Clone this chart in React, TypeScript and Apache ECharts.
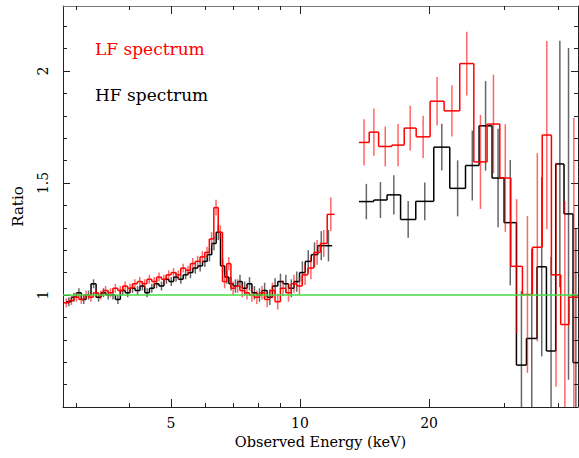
import React, { useEffect, useRef } from "react";
import * as echarts from "echarts";

// ---------------- data ----------------
// x range (keV) and y range (ratio)
const xRange = [2.8, 44.5];
const yRange = [0.5, 2.29];

// tick values
const xMajorTicks = [5, 10, 20];
const xMinorTicks = [3, 4, 6, 7, 8, 9, 30, 40];
const yMajorTicks = [0.5, 1, 1.5, 2];
const yMinorTicks = [0.6, 0.7, 0.8, 0.9, 1.1, 1.2, 1.3, 1.4, 1.6, 1.7, 1.8, 1.9, 2.1, 2.2];
const yLabelTicks = [1, 1.5, 2];

// LF spectrum (red), low-energy part: bin centres (keV), ratio, error
const lfLowE = [2.85, 2.93, 3.01, 3.09, 3.17, 3.25, 3.34, 3.43, 3.52, 3.61, 3.71, 3.81, 3.91, 4.01, 4.12, 4.23, 4.34, 4.45, 4.57, 4.69, 4.81, 4.94, 5.07, 5.2, 5.34, 5.48, 5.62, 5.77, 5.92, 6.07, 6.22, 6.37, 6.52, 6.67, 6.82, 6.98, 7.15, 7.33, 7.52, 7.72, 7.93, 8.15, 8.38, 8.62, 8.87, 9.13, 9.4, 9.68, 9.97, 10.27, 10.6, 10.95, 11.35, 11.8];
const lfLowR = [0.965, 0.975, 0.99, 0.98, 1.0, 0.99, 1.01, 1.0, 1.02, 1.01, 1.03, 1.02, 1.04, 1.03, 1.05, 1.06, 1.05, 1.07, 1.06, 1.08, 1.07, 1.09, 1.1, 1.09, 1.12, 1.11, 1.14, 1.15, 1.17, 1.19, 1.25, 1.39, 1.28, 1.06, 1.14, 1.03, 1.04, 1.02, 1.01, 1.0, 0.99, 1.01, 0.98, 1.02, 0.97, 1.03, 1.01, 1.05, 1.04, 1.09, 1.12, 1.19, 1.23, 1.36];
const lfLowErr = [0.02, 0.02, 0.02, 0.02, 0.02, 0.02, 0.02, 0.02, 0.02, 0.02, 0.02, 0.02, 0.02, 0.02, 0.02, 0.02, 0.02, 0.02, 0.02, 0.02, 0.02, 0.02, 0.02, 0.02, 0.02, 0.02, 0.025, 0.025, 0.025, 0.025, 0.03, 0.035, 0.03, 0.03, 0.03, 0.03, 0.03, 0.03, 0.03, 0.03, 0.03, 0.03, 0.035, 0.035, 0.035, 0.035, 0.04, 0.04, 0.04, 0.045, 0.05, 0.055, 0.06, 0.075];

// LF spectrum (red), high-energy part: bin edges (keV), ratio, error
const lfHighEdges = [13.72, 14.5, 15.25, 16.38, 17.5, 18.66, 20.11, 21.68, 23.58, 25.43, 27.31, 29.24, 31.02, 33.02, 34.84, 36.72, 38.58, 40.55, 42.4, 44.67];
const lfHighR = [1.681, 1.727, 1.663, 1.669, 1.745, 1.706, 1.865, 1.822, 2.033, 1.594, 1.763, 1.522, 1.128, 1.002, 1.213, 1.714, 1.09, 0.868, 0.99];
const lfHighErr = [0.103, 0.105, 0.089, 0.094, 0.1, 0.094, 0.108, 0.114, 0.142, 0.21, 0.22, 0.24, 0.3, 0.35, 0.42, 0.42, 0.5, 0.55, 0.8];

// HF spectrum (black), low-energy part
const hfLowE = [2.89, 2.97, 3.05, 3.13, 3.21, 3.3, 3.39, 3.48, 3.57, 3.66, 3.76, 3.86, 3.96, 4.07, 4.18, 4.29, 4.4, 4.51, 4.63, 4.75, 4.88, 5.01, 5.14, 5.27, 5.41, 5.55, 5.7, 5.85, 6.0, 6.15, 6.3, 6.45, 6.6, 6.75, 6.9, 7.07, 7.24, 7.43, 7.62, 7.83, 8.04, 8.27, 8.5, 8.75, 9.0, 9.27, 9.54, 9.83, 10.12, 10.45, 10.8, 11.2, 11.65];
const hfLowR = [0.97, 0.99, 1.01, 0.98, 1.0, 1.05, 0.99, 1.01, 1.0, 1.0, 0.98, 1.02, 1.01, 1.03, 1.02, 1.04, 1.01, 1.03, 1.05, 1.04, 1.07, 1.06, 1.08, 1.07, 1.09, 1.1, 1.12, 1.13, 1.15, 1.18, 1.23, 1.28, 1.13, 1.08, 1.05, 1.04, 1.06, 1.03, 1.05, 1.01, 1.0, 1.02, 0.99, 1.04, 1.06, 1.05, 1.03, 1.06, 1.1, 1.15, 1.18, 1.22, 1.22];
const hfLowErr = [0.02, 0.02, 0.02, 0.02, 0.02, 0.02, 0.02, 0.02, 0.02, 0.02, 0.02, 0.02, 0.02, 0.02, 0.02, 0.02, 0.02, 0.02, 0.02, 0.02, 0.02, 0.02, 0.02, 0.02, 0.02, 0.025, 0.025, 0.025, 0.025, 0.03, 0.03, 0.035, 0.03, 0.03, 0.03, 0.03, 0.03, 0.03, 0.03, 0.03, 0.03, 0.035, 0.035, 0.035, 0.035, 0.04, 0.04, 0.045, 0.05, 0.05, 0.055, 0.065, 0.07];

// HF spectrum (black), high-energy part
const hfHighEdges = [13.72, 14.86, 15.96, 17.16, 18.62, 20.51, 22.35, 24.32, 26.16, 28.05, 29.92, 31.97, 33.74, 35.71, 37.56, 39.48, 41.28, 43.33, 44.67];
const hfHighR = [1.417, 1.424, 1.447, 1.337, 1.418, 1.66, 1.476, 1.578, 1.755, 1.522, 1.323, 0.687, 0.806, 1.126, 0.75, 1.585, 1.362, 0.698];
const hfHighErr = [0.079, 0.08, 0.088, 0.082, 0.084, 0.104, 0.125, 0.156, 0.2, 0.22, 0.28, 0.33, 0.4, 0.4, 0.42, 0.55, 0.74, 0.6];

const legendLabels = ["LF spectrum", "HF spectrum"];

// ---------------- helpers ----------------
const lg = (v: number) => Math.log10(v);

function edgesFromCentres(c: number[]): number[] {
  const e: number[] = [];
  for (let i = 1; i < c.length; i++) e[i] = Math.sqrt(c[i - 1] * c[i]);
  e[0] = (c[0] * c[0]) / e[1];
  e[c.length] = (c[c.length - 1] * c[c.length - 1]) / e[c.length - 1];
  return e;
}

function histItems(edges: number[], r: number[], err: number[]) {
  return r.map((y, i) => {
    const lo = edges[i];
    const hi = edges[i + 1];
    const hasPrev = i > 0 ? 1 : 0;
    const prev = i > 0 ? r[i - 1] : y;
    return [lg(lo), lg(hi), (lg(lo) + lg(hi)) / 2, y, err[i], prev, hasPrev];
  });
}

function histSeries(name: string, data: number[][], stepColor: string, errColor: string, z: number) {
  return {
    name,
    type: "custom",
    xAxisIndex: 0,
    yAxisIndex: 0,
    clip: true,
    z,
    encode: { x: [0, 1], y: 3 },
    data,
    renderItem: (_params: any, api: any) => {
      const x0 = api.value(0);
      const x1 = api.value(1);
      const xc = api.value(2);
      const y = api.value(3);
      const e = api.value(4);
      const yp = api.value(5);
      const hp = api.value(6);
      const a = api.coord([x0, y]);
      const b = api.coord([x1, y]);
      const t = api.coord([xc, y + e]);
      const d = api.coord([xc, y - e]);
      const children: any[] = [
        {
          type: "line",
          shape: { x1: t[0], y1: t[1], x2: d[0], y2: d[1] },
          style: { stroke: errColor, lineWidth: 1.5 },
        },
        {
          type: "line",
          shape: { x1: a[0], y1: a[1], x2: b[0], y2: b[1] },
          style: { stroke: stepColor, lineWidth: 1.5 },
        },
      ];
      if (hp) {
        const p = api.coord([x0, yp]);
        children.push({
          type: "line",
          shape: { x1: p[0], y1: p[1], x2: a[0], y2: a[1] },
          style: { stroke: stepColor, lineWidth: 1.5 },
        });
      }
      return { type: "group", children };
    },
  };
}

export default function App() {
  const ref = useRef<HTMLDivElement>(null);

  useEffect(() => {
    if (!ref.current) return;
    document.body.style.margin = "0";
    document.body.style.overflow = "hidden";
    const chart = echarts.init(ref.current, null, { renderer: "svg" });
    const font = "DejaVu Serif";
    const xmin = lg(xRange[0]);
    const xmax = lg(xRange[1]);

    const xBase = {
      type: "value",
      gridIndex: 0,
      min: xmin,
      max: xmax,
      splitLine: { show: false },
    };
    const yBase = {
      type: "value",
      gridIndex: 0,
      min: yRange[0],
      max: yRange[1],
      splitLine: { show: false },
    };
    const axisLineStyle = { color: "#222", width: 1 };

    const option: any = {
      animation: false,
      backgroundColor: "#ffffff",
      textStyle: { fontFamily: font },
      grid: { left: 63, right: 1, top: 6, bottom: 51 },
      xAxis: [
        {
          ...xBase,
          position: "bottom",
          name: "Observed Energy (keV)",
          nameLocation: "middle",
          nameGap: 27,
          nameTextStyle: { fontFamily: font, fontSize: 14.5, color: "#000" },
          axisLine: { show: true, lineStyle: axisLineStyle },
          axisTick: { show: true, inside: true, length: 8, customValues: xMajorTicks.map(lg), lineStyle: axisLineStyle },
          axisLabel: {
            show: true,
            customValues: xMajorTicks.map(lg),
            formatter: (v: number) => String(Math.round(Math.pow(10, v))),
            fontFamily: font,
            fontSize: 14,
            color: "#000",
            margin: 9,
          },
        },
        {
          ...xBase,
          position: "bottom",
          axisLine: { show: false },
          axisTick: { show: true, inside: true, length: 4, customValues: xMinorTicks.map(lg), lineStyle: axisLineStyle },
          axisLabel: { show: false },
        },
        {
          ...xBase,
          position: "top",
          axisLine: { show: true, lineStyle: { color: "#777", width: 1 } },
          axisTick: { show: true, inside: true, length: 8, customValues: xMajorTicks.map(lg), lineStyle: axisLineStyle },
          axisLabel: { show: false },
        },
        {
          ...xBase,
          position: "top",
          axisLine: { show: false },
          axisTick: { show: true, inside: true, length: 4, customValues: xMinorTicks.map(lg), lineStyle: axisLineStyle },
          axisLabel: { show: false },
        },
      ],
      yAxis: [
        {
          ...yBase,
          position: "left",
          name: "Ratio",
          nameLocation: "middle",
          nameRotate: 90,
          nameGap: 38,
          nameTextStyle: { fontFamily: font, fontSize: 15, color: "#000" },
          axisLine: { show: true, lineStyle: axisLineStyle },
          axisTick: { show: true, inside: true, length: 7, customValues: yMajorTicks, lineStyle: axisLineStyle },
          axisLabel: {
            show: true,
            customValues: yLabelTicks,
            rotate: 90,
            fontFamily: font,
            fontSize: 14,
            color: "#000",
            margin: 13,
          },
        },
        {
          ...yBase,
          position: "left",
          axisLine: { show: false },
          axisTick: { show: true, inside: true, length: 4, customValues: yMinorTicks, lineStyle: axisLineStyle },
          axisLabel: { show: false },
        },
        {
          ...yBase,
          position: "right",
          axisLine: { show: true, lineStyle: axisLineStyle },
          axisTick: { show: true, inside: true, length: 7, customValues: yMajorTicks, lineStyle: axisLineStyle },
          axisLabel: { show: false },
        },
        {
          ...yBase,
          position: "right",
          axisLine: { show: false },
          axisTick: { show: true, inside: true, length: 4, customValues: yMinorTicks, lineStyle: axisLineStyle },
          axisLabel: { show: false },
        },
      ],
      series: [
        histSeries("HF low", histItems(edgesFromCentres(hfLowE), hfLowR, hfLowErr), "#000000", "rgba(0,0,0,0.6)", 2),
        histSeries("HF high", histItems(hfHighEdges, hfHighR, hfHighErr), "#000000", "rgba(0,0,0,0.6)", 2),
        histSeries("LF low", histItems(edgesFromCentres(lfLowE), lfLowR, lfLowErr), "#ff0000", "rgba(255,0,0,0.6)", 3),
        histSeries("LF high", histItems(lfHighEdges, lfHighR, lfHighErr), "#ff0000", "rgba(255,0,0,0.6)", 3),
        {
          name: "unity",
          type: "line",
          xAxisIndex: 0,
          yAxisIndex: 0,
          z: 5,
          symbol: "none",
          data: [],
          markLine: {
            silent: true,
            symbol: "none",
            label: { show: false },
            lineStyle: { color: "#44dd44", width: 1.5, type: "solid" },
            data: [{ yAxis: 1 }],
          },
        },
      ],
      graphic: [
        {
          type: "text",
          left: 95,
          top: 40,
          style: { text: legendLabels[0], fill: "#ff0000", font: `17px "${font}"` },
        },
        {
          type: "text",
          left: 95,
          top: 86,
          style: { text: legendLabels[1], fill: "#000000", font: `17px "${font}"` },
        },
      ],
    };
    chart.setOption(option);
    return () => chart.dispose();
  }, []);

  return <div ref={ref} style={{ width: 579, height: 458 }} />;
}
